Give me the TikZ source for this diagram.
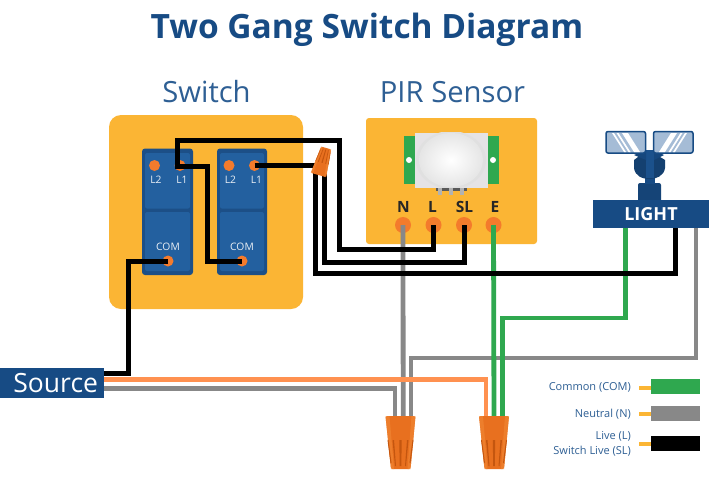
\documentclass[tikz,border=0pt]{standalone}
\usepackage{fontspec}
\setmainfont{Open Sans}
\usetikzlibrary{calc}
\definecolor{navy}{HTML}{174B84}
\definecolor{txtblue}{HTML}{2E5F94}
\definecolor{plate}{HTML}{23609F}
\definecolor{plateedge}{HTML}{1C4F87}
\definecolor{panel}{HTML}{FBB534}
\definecolor{term}{HTML}{F47B2C}
\definecolor{wgreen}{HTML}{2FA84F}
\definecolor{wgrey}{HTML}{888888}
\definecolor{worange}{HTML}{FF9150}
\definecolor{nut}{HTML}{E8701F}
\definecolor{nutdark}{HTML}{C4560F}
\definecolor{nutlight}{HTML}{F08532}
\definecolor{lampglass}{HTML}{A5BCD6}
\definecolor{sensorbody}{HTML}{E5E3E5}
\tikzset{
  wire/.style={line width=5pt,line cap=butt,line join=miter},
  blackwire/.style={wire,draw=black},
  greywire/.style={wire,draw=wgrey,line width=4.8pt},
  greenwire/.style={wire,draw=wgreen,line width=4.8pt},
  orangewire/.style={wire,draw=worange,line width=4.8pt},
  terminal/.style={circle,fill=term,draw=none,minimum size=16pt,inner sep=0pt},
  swterm/.style={circle,fill=term,draw=none,minimum size=11pt,inner sep=0pt},
  swlabel/.style={text=white!90!plate,font=\fontsize{10.3}{12}\selectfont,inner sep=0pt},
  pinlabel/.style={text=black!85,font=\fontsize{15.5}{17}\selectfont\bfseries,inner sep=0pt},
  head/.style={text=txtblue,font=\fontsize{29.2}{33}\selectfont,inner sep=0pt},
  legendtext/.style={text=txtblue,font=\fontsize{11}{14.5}\selectfont,align=right,anchor=east,inner sep=0pt},
  legendtick/.style={draw=panel,line width=4pt},
  swatch/.style={minimum width=49pt,inner sep=0pt,draw=none},
  nutpic/.pic={
    \fill[nut,rounded corners=1.5pt] (-15,0) -- (15,0) -- (10,53) -- (-9.5,53) -- cycle;
    \fill[nutlight,opacity=.7] (-15,0) -- (-11,0) -- (-6.5,53) -- (-9.5,53) -- cycle;
    \fill[nutlight,opacity=.7] (15,0) -- (11,0) -- (7,53) -- (10,53) -- cycle;
    \fill[nutdark] (-8,24) -- (-6.5,24) -- (-4.5,50) -- (-5.5,50) -- cycle;
    \fill[nutdark] (-1.2,24) -- (1.2,24) -- (0.8,50) -- (-0.8,50) -- cycle;
    \fill[nutdark] (6.5,24) -- (8,24) -- (5.5,50) -- (4.5,50) -- cycle;
    \fill[nutdark] (-13,24) -- (-12,24) -- (-9,47) -- (-10,47) -- cycle;
    \fill[nutdark] (12,24) -- (13,24) -- (10,47) -- (9,47) -- cycle;
  }
}
\begin{document}
\begin{tikzpicture}[x=1pt,y=-1pt]
\useasboundingbox (0,0) rectangle (720,480);
\fill[white] (0,0) rectangle (720,480);

% title
\node[text=navy,font=\fontsize{33.5}{38}\selectfont\bfseries,inner sep=0pt] (title) at (367,30) {Two Gang Switch Diagram};
\node[head] (switchhead) at (206.5,92) {Switch};
\node[head] (pirhead) at (452.5,92) {PIR Sensor};

% switch panel
\fill[panel,rounded corners=12pt] (109,115) rectangle (303,309);
\foreach \x/\y in {142/193,217/267}{
  \fill[plateedge,rounded corners=3pt] (\x,148.5) rectangle (\y,275);
  \fill[plate,rounded corners=2pt] (\x+3,153) rectangle (\y-3,208.5);
  \fill[plate,rounded corners=2pt] (\x+3,212) rectangle (\y-3,271);
}
\node[swterm] (al2) at (154.5,165.5) {};
\node[swterm] (al1) at (180,165.5) {};
\node[swterm] (bl2) at (229,165.5) {};
\node[swterm] (bl1) at (254.5,165.5) {};
\node[swterm] (acom) at (168,261) {};
\node[swterm] (bcom) at (242,261) {};
\node[swlabel] (tal2) at (156,180) {L2};
\node[swlabel] (tal1) at (182,180) {L1};
\node[swlabel] (tbl2) at (230.5,180) {L2};
\node[swlabel] (tbl1) at (256.5,180) {L1};
\node[swlabel] (tacom) at (168,246.5) {COM};
\node[swlabel] (tbcom) at (242,246.5) {COM};

% PIR panel
\fill[panel,rounded corners=3pt] (366,118) rectangle (537,244);
\fill[wgreen] (404,136) rectangle (498.5,184);
\fill[white] (409,160) circle[radius=3pt];
\fill[white] (493,160) circle[radius=3pt];
\fill[black!65] (435.5,187) rectangle (467,191);
\foreach \x in {440,451,462} \fill[black!30] (\x-2,187) rectangle (\x+2,195);
\fill[sensorbody] (415,132.5) rectangle (487.5,187.5);
\begin{scope}
\clip (415,132.5) rectangle (487.5,187.5);
\fill[black!12] (451,160) ellipse[x radius=35pt,y radius=29pt];
\shade[inner color=white,middle color=white,outer color=black!10] (451,160) ellipse[x radius=32pt,y radius=27pt];
\end{scope}
\node[pinlabel] (tn) at (403.5,207) {N};
\node[pinlabel] (tl) at (432.5,207) {L};
\node[pinlabel] (tsl) at (464.5,207) {SL};
\node[pinlabel] (te) at (495,207) {E};
\node[terminal] (pn) at (403,225) {};
\node[terminal] (pl) at (433.5,225) {};
\node[terminal] (psl) at (464,225) {};
\node[terminal] (pe) at (493.5,225) {};

% light
\fill[navy!90!black,rounded corners=2pt] (638,183) rectangle (661,202);
\fill[navy] (645,176) rectangle (655,184);
\fill[navy!85!black] (642,150) -- (657,150) -- (660,157) -- (665,160) -- (665,168) .. controls (664,176) and (656,179) .. (650,179) .. controls (642,179) and (635,176) .. (634,168) -- (634,160) -- (638,157) -- cycle;
\fill[navy!70!plate] (646,150) rectangle (654,178);
\fill[navy!95!black] (634,155) -- (646,150) -- (646,160) -- cycle;
\fill[navy!95!black] (664,155) -- (654,150) -- (654,160) -- cycle;
\draw[navy,line width=1.5pt,fill=lampglass,rounded corners=2pt] (606,131.5) rectangle (645.5,153);
\draw[navy,line width=1.5pt,fill=lampglass,rounded corners=2pt] (653.5,131.5) rectangle (693,153);
\fill[white] (612,133) -- (614,133) -- (626,152) -- (624,152) -- cycle;
\fill[white] (616.5,133) -- (618.5,133) -- (630.5,152) -- (628.5,152) -- cycle;
\fill[white] (622,133) -- (628,133) -- (640,152) -- (634,152) -- cycle;
\fill[white] (687,133) -- (685,133) -- (673,152) -- (675,152) -- cycle;
\fill[white] (682.5,133) -- (680.5,133) -- (668.5,152) -- (670.5,152) -- cycle;
\fill[white] (677,133) -- (671,133) -- (659,152) -- (665,152) -- cycle;
\node[fill=navy,text=white,minimum width=116pt,minimum height=28pt,inner sep=0pt,font=\fontsize{18}{20}\selectfont\bfseries] (light) at (651,214) {LIGHT};

% coordinates on the light box
\coordinate (lg) at (625.5,228);
\coordinate (lb) at (675,228);
\coordinate (lw) at (696,228);
% wire ends inside the nuts
\coordinate (nn1) at (395,417);
\coordinate (nn2) at (403.2,417);
\coordinate (nn3) at (411,417);
\coordinate (ne0) at (486,417);
\coordinate (ne1) at (494,417);
\coordinate (ne2) at (502.5,417);
\coordinate (smallA) at (315,172);
\coordinate (smallB) at (324,172);
\coordinate (smallC) at (316,165.5);

% source
\node[fill=navy,text=white,anchor=north west,minimum width=104pt,minimum height=30pt,inner sep=0pt,font=\fontsize{26.5}{28}\selectfont,text depth=0pt] (source) at (0,368) {\hspace*{7pt}Source};
\coordinate (srcB) at (104,373);
\coordinate (srcO) at (104,379.5);
\coordinate (srcG) at (104,388.5);

% wires: grey, green, orange
\draw[greywire] (pn.center) -- (nn2);
\draw[greywire] (nn3) -- (411,358) -| (lw);
\draw[greywire] (srcG) -| (nn1);
\draw[greenwire] (pe.center) -- (ne1);
\draw[greenwire] (ne2) -- (502.5,318) -| (lg);
\draw[orangewire] (srcO) -| (ne0);

% wires: black
\draw[blackwire] (acom.center) -| (128,373) -- (srcB);
\draw[blackwire] (bcom.center) -| (207,166) -- (177,166) -- (177,140) -| (339.5,249.5) -| (pl.center);
\draw[blackwire] (bl1.center) -- (smallC);
\draw[blackwire] (smallB) -- (324,262) -| (psl.center);
\draw[blackwire] (smallA) -- (315,273) -| (lb);

% wire nuts
\pic at (400.5,416) {nutpic};
\pic at (494,416) {nutpic};
\pic[rotate=164,scale=.53] at (318.5,175) {nutpic};

% legend
\node[legendtext] (lcom) at (631,387) {Common (COM)};
\node[legendtext] (lneu) at (631,414) {Neutral (N)};
\node[legendtext] (llive) at (631,444) {Live (L)\\Switch Live (SL)};
\draw[legendtick] (639,387.5) -- (651,387.5);
\draw[legendtick] (639,414) -- (651,414);
\draw[legendtick] (639,443.5) -- (651,443.5);
\node[swatch,fill=wgreen,minimum height=15pt,anchor=west] (scom) at (651,386.7) {};
\node[swatch,fill=wgrey,minimum height=14.5pt,anchor=west] (sneu) at (651,413.5) {};
\node[swatch,fill=black,minimum height=15pt,anchor=west] (slive) at (651,443.5) {};
\end{tikzpicture}
\end{document}
